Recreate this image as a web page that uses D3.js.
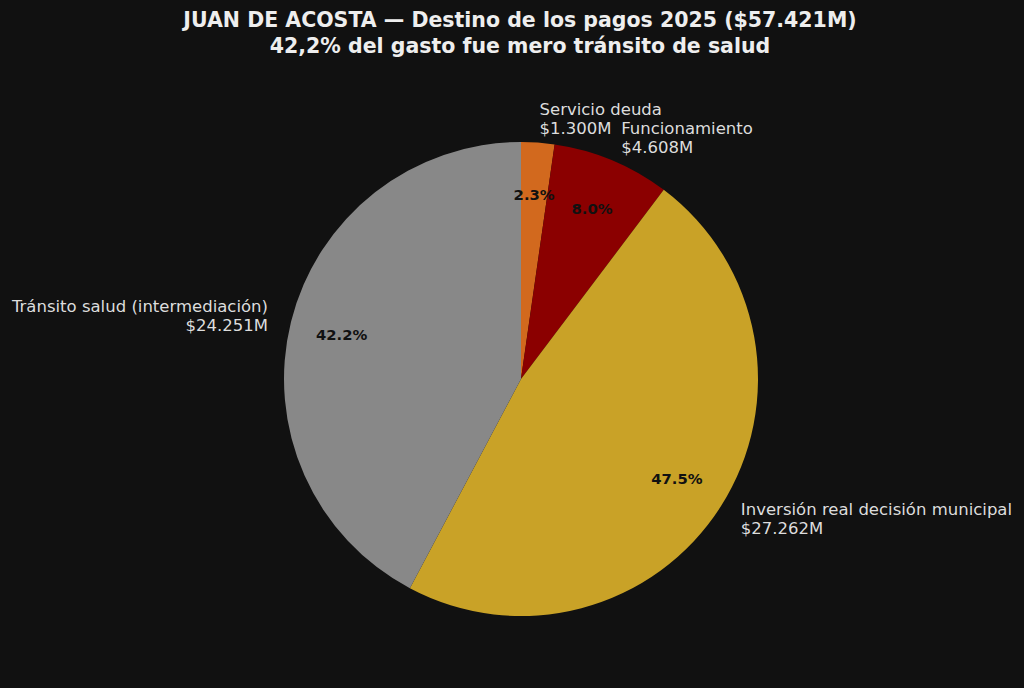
<!DOCTYPE html>
<html>
<head>
<meta charset="utf-8">
<script src="https://cdn.jsdelivr.net/npm/d3@7"></script>
<style>
  body { margin: 0; background: #111111; }
  text { font-family: "DejaVu Sans", sans-serif; }
</style>
</head>
<body>
<div id="chart"></div>
<script>
// data
const categories = ["Servicio deuda", "Funcionamiento", "Inversión real decisión municipal", "Tránsito salud (intermediación)"];
const values = [1300, 4608, 27262, 24251];
const valueLabels = ["$1.300M", "$4.608M", "$27.262M", "$24.251M"];
const colorList = ["#D2691E", "#8B0000", "#C9A227", "#888888"];
const titleLines = ["JUAN DE ACOSTA — Destino de los pagos 2025 ($57.421M)", "42,2% del gasto fue mero tránsito de salud"];

// formatting constants
const width = 1024;
const height = 688;
const cx = 521;
const cy = 379;
const radius = 237;
const total = d3.sum(values);

const svg = d3.select("#chart")
    .append("svg")
        .attr("width", width)
        .attr("height", height);

svg.append("rect")
    .attr("width", width)
    .attr("height", height)
    .attr("fill", "#111111");

// title
svg.append("g")
    .selectAll("text")
    .data(titleLines)
    .join("text")
        .attr("x", 520)
        .attr("y", (d, i) => 27 + i * 26)
        .attr("text-anchor", "middle")
        .attr("fill", "#eeeeee")
        .attr("font-size", 20.5)
        .attr("font-weight", "bold")
        .text(d => d);

// pie, clockwise from 12 o'clock, no sorting
const pie = d3.pie().sort(null).value(d => d.value);
const arcs = pie(categories.map((c, i) => ({key: c, value: values[i], label: valueLabels[i]})));
const arc = d3.arc().innerRadius(0).outerRadius(radius);

const g = svg.append("g")
    .attr("transform", `translate(${cx}, ${cy})`);

g.selectAll("path")
    .data(arcs)
    .join("path")
        .attr("d", arc)
        .attr("fill", (d, i) => colorList[i]);

// percentages
const pctArc = d3.arc().innerRadius(radius * 0.78).outerRadius(radius * 0.78);
g.selectAll("text.pct")
    .data(arcs)
    .join("text")
        .attr("class", "pct")
        .attr("transform", d => `translate(${pctArc.centroid(d)})`)
        .attr("text-anchor", "middle")
        .attr("dy", "0.35em")
        .attr("fill", "#111111")
        .attr("font-size", 14.8)
        .attr("font-weight", "bold")
        .text(d => (d.value / total * 100).toFixed(1) + "%");

// outer labels
const labelArc = d3.arc().innerRadius(radius * 1.1).outerRadius(radius * 1.1);
const labels = g.selectAll("text.lbl")
    .data(arcs)
    .join("text")
        .attr("class", "lbl")
        .attr("transform", d => `translate(${labelArc.centroid(d)})`)
        .attr("text-anchor", d => labelArc.centroid(d)[0] >= 0 ? "start" : "end")
        .attr("fill", "#dddddd")
        .attr("font-size", 16.5);

labels.append("tspan")
    .attr("x", 0)
    .attr("y", -4)
    .text(d => d.data.key);

labels.append("tspan")
    .attr("x", 0)
    .attr("y", 15)
    .text(d => d.data.label);
</script>
</body>
</html>
